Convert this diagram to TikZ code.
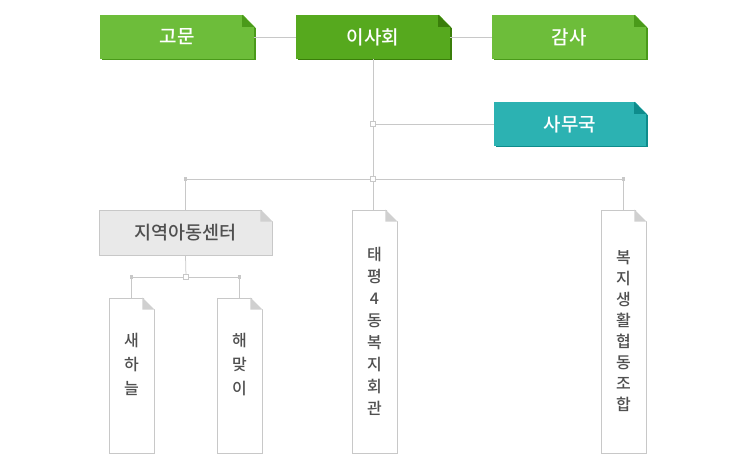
\documentclass[tikz,border=0pt]{standalone}
\usepackage{fontspec}
\newfontfamily\kr{Noto Sans CJK KR Medium}
\usetikzlibrary{shadows}
\definecolor{leaf}{HTML}{6DBD3A}
\definecolor{leafdark}{HTML}{4A9A1A}
\definecolor{forest}{HTML}{56A91E}
\definecolor{forestdark}{HTML}{3A7E0A}
\definecolor{teal}{HTML}{2CB2B2}
\definecolor{tealdark}{HTML}{0E8C8C}
\definecolor{linegray}{HTML}{C8C8C8}
\definecolor{foldgray}{HTML}{D0D0D0}
\definecolor{boxgray}{HTML}{E9E9E9}
\definecolor{inkgray}{HTML}{505050}
\tikzset{board/.style = {shape = rectangle, fill = #1, text = white, inner sep = 0pt,
    minimum width = 154pt, minimum height = 44pt, font = \kr\fontsize{19}{19}\selectfont}}
\tikzset{sheet/.style = {shape = rectangle, fill = #1, draw = linegray, line width = 0.8pt, text = inkgray, inner sep = 0pt,
    align = center, minimum width = 45pt, minimum height = 243pt, font = \kr\fontsize{16}{22}\selectfont,
    drop shadow = {shadow xshift = 1pt, shadow yshift = -1pt, fill = linegray, opacity = 1}}}
\tikzset{lift/.style = {drop shadow = {shadow xshift = 1.5pt, shadow yshift = -1.5pt, fill = #1, opacity = 1}}}
\tikzset{link/.style = {draw = linegray, line width = 0.75pt}}
\tikzset{knot/.style = {shape = rectangle, draw = linegray, fill = white, line width = 0.6pt, minimum size = 5pt, inner sep = 0pt}}
\tikzset{stub/.style = {shape = rectangle, fill = linegray, minimum size = 3.5pt, inner sep = 0pt}}

\begin{document}
\begin{tikzpicture}[x = 1pt, y = -1pt]
	\useasboundingbox (0, 0) rectangle (749, 462);

	\coordinate (j1) at (373, 124);
	\coordinate (j2) at (373, 179);
	\coordinate (j3) at (186, 277);

	\node[board = leaf, lift = leafdark] (gomun) at (177, 37) {고문};
	\node[board = forest, lift = forestdark] (isahoe) at (373, 37) {이사회};
	\node[board = leaf, lift = leafdark] (gamsa) at (569, 37) {감사};
	\node[board = teal, lift = tealdark, minimum width = 152pt] (samuguk) at (570, 124) {사무국};

	\node[sheet = boxgray, minimum width = 173pt, minimum height = 45pt, font = \kr\fontsize{18.5}{18.5}\selectfont] (center) at (185.5, 232.5) {지역아동센터};
	\node[sheet = white] (taepyeong) at (374.5, 331.5) {태\\평\\4\\동\\복\\지\\회\\관};
	\node[sheet = white, font = \kr\fontsize{16}{21}\selectfont] (bokji) at (623.5, 331.5) {복\\지\\생\\활\\협\\동\\조\\합};
	\node[sheet = white, minimum height = 155pt, font = \kr\fontsize{16}{24}\selectfont, text depth = 24pt] (saehaneul) at (131.5, 375.5) {새\\하\\늘};
	\node[sheet = white, minimum height = 155pt, font = \kr\fontsize{16}{24}\selectfont, text depth = 24pt] (haemaji) at (239.5, 375.5) {해\\맞\\이};

	\foreach \n/\c in {gomun/leafdark, isahoe/forestdark, gamsa/leafdark, samuguk/tealdark,
	    center/foldgray, taepyeong/foldgray, bokji/foldgray, saehaneul/foldgray, haemaji/foldgray} {
		\fill[white] ([shift = {(-12pt, 1pt)}]\n.north east) -- ([shift = {(3pt, 1pt)}]\n.north east) -- ([shift = {(3pt, -14.5pt)}]\n.north east) -- cycle;
		\fill[\c] ([shift = {(-12pt, 0pt)}]\n.north east) -- ([shift = {(-12pt, -12pt)}]\n.north east) -- ([shift = {(0pt, -12pt)}]\n.north east) -- cycle;
	}

	\draw[link] (gomun.east) -- (isahoe.west);
	\draw[link] (isahoe.east) -- (gamsa.west);
	\draw[link] (isahoe.south) -- (j2);
	\draw[link] (j1) -- (samuguk.west);
	\draw[link] (j2) -| (center.north);
	\draw[link] (j2) -| (bokji.north);
	\draw[link] (j2) -- (j2 |- taepyeong.north);
	\draw[link] (center.south) -- (j3);
	\draw[link] (j3) -| (saehaneul.north);
	\draw[link] (j3) -| (haemaji.north);

	\node[knot] (k1) at (j1) {};
	\node[knot] (k2) at (j2) {};
	\node[knot] (k3) at (j3) {};
	\node[stub] (s1) at (j2 -| center) {};
	\node[stub] (s2) at (j2 -| bokji) {};
	\node[stub] (s3) at (j3 -| saehaneul) {};
	\node[stub] (s4) at (j3 -| haemaji) {};
\end{tikzpicture}
\end{document}
